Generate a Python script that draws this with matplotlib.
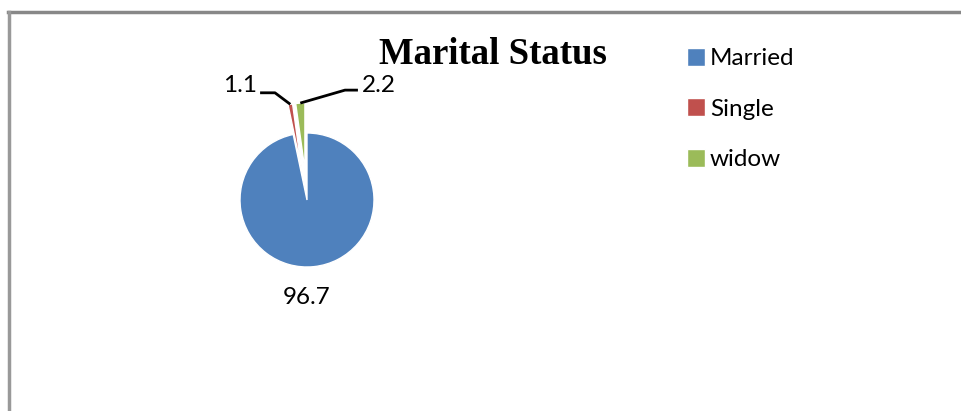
import matplotlib
matplotlib.use("Agg")
import matplotlib.pyplot as plt
import numpy as np
from matplotlib.lines import Line2D

categories = ["Married", "Single", "widow"]
values = [96.7, 1.1, 2.2]
labels_txt = ["96.7", "1.1", "2.2"]
colors = ["#4F81BD", "#C0504D", "#9BBB59"]
explode = [0, 0.45, 0.45]

W, H = 962, 411
fig = plt.figure(figsize=(W / 100, H / 100), dpi=100)
fig.patch.set_facecolor("white")

# border (top and left only visible)
fig.add_artist(Line2D([8 / W, 1], [1 - 12 / H, 1 - 12 / H], transform=fig.transFigure, color="#888888", lw=2.5))
fig.add_artist(Line2D([9 / W, 9 / W], [0, 1 - 12 / H], transform=fig.transFigure, color="#999999", lw=2.5))

cx, cy, half = 307, 200, 134
ax = fig.add_axes([(cx - half) / W, (H - cy - half) / H, 2 * half / W, 2 * half / H])
wedges, _ = ax.pie(values, colors=colors, startangle=90, counterclock=False,
                   explode=explode, radius=1.0,
                   wedgeprops=dict(edgecolor="white", linewidth=1))
ax.set_xlim(-2, 2)
ax.set_ylim(-2, 2)
ax.set_aspect("equal")
ax.axis("off")

lfont = dict(family="Lato", fontsize=17.5)

# Married label below
ax.text(0, -1.45, labels_txt[0], ha="center", va="center", **lfont)

# leader lines for small slices
for i, (elbow_dx, end_dx, ha, txt_dx) in zip([1, 2], [(-0.478, -0.70, "right", -0.75), (0.567, 0.76, "left", 0.82)]):
    w = wedges[i]
    mid = np.deg2rad((w.theta1 + w.theta2) / 2)
    r = 1.0 + explode[i]
    x0, y0 = r * np.cos(mid), r * np.sin(mid)
    ey = 1.60 if i == 1 else 1.64
    ax.plot([x0, elbow_dx, end_dx], [y0, ey, ey], color="black", lw=2, clip_on=False, solid_capstyle="butt")
    ax.text(txt_dx, 1.71, labels_txt[i], ha=ha, va="center", **lfont)

fig.text(493 / W, 1 - 54 / H, "Marital Status", ha="center", va="center",
         family="Liberation Serif", fontweight="bold", fontsize=26.5)

fig.legend(wedges, categories, loc="upper left", bbox_to_anchor=(677 / W, 1 - 38 / H),
           frameon=False, prop=dict(family="Lato", size=17.5), handlelength=0.75, handleheight=0.75,
           handletextpad=0.2, labelspacing=1.2, borderaxespad=0)

fig.savefig("out.png", dpi=100, facecolor="white")
